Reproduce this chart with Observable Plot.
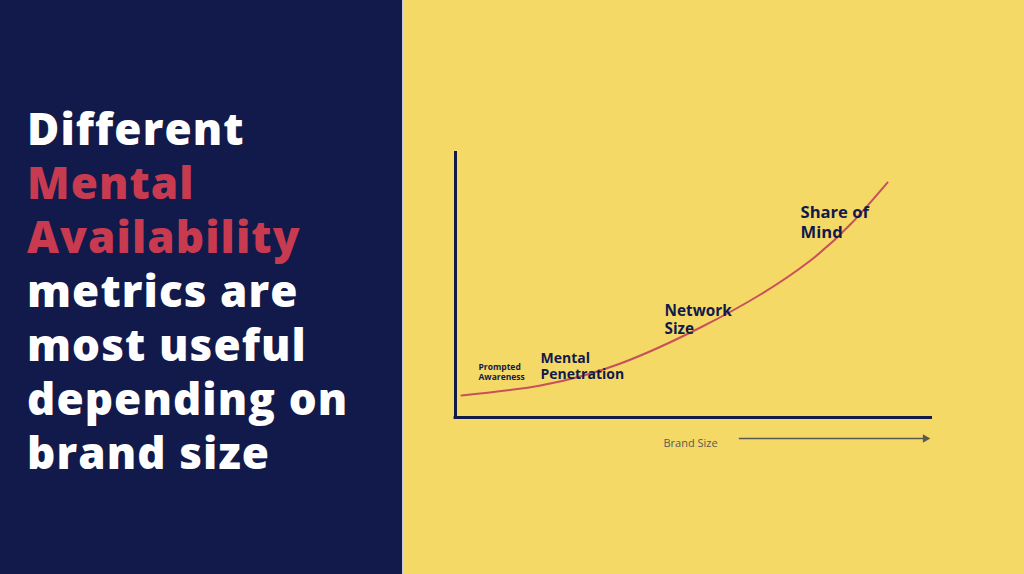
<!DOCTYPE html>
<html>
<head>
<meta charset="utf-8">
<script src="https://cdn.jsdelivr.net/npm/d3@7"></script>
<script src="https://cdn.jsdelivr.net/npm/@observablehq/plot@0.6"></script>
<style>
  html, body { margin: 0; padding: 0; width: 1024px; height: 574px; overflow: hidden; }
  #wrap { position: relative; width: 1024px; height: 574px; }
  #left { position: absolute; left: 0; top: 0; width: 402px; height: 574px; background: #111a4a; }
  #divider { position: absolute; left: 402px; top: 0; width: 1px; height: 574px; background: #c9cde0; }
  #right { position: absolute; left: 403px; top: 0; width: 621px; height: 574px; background: #f4d967; }
  #title { position: absolute; left: 27px; top: 101px; font-family: "Open Sans", Lato, sans-serif;
           font-weight: 800; font-size: 44px; line-height: 54px; color: #ffffff; letter-spacing: 1.1px; white-space: nowrap; }
  #title div { height: 54px; }
  #title .hl { color: #c83a50; }
  #right svg { position: absolute; left: 0; top: 0; }
</style>
</head>
<body>
<div id="wrap">
  <div id="left">
    <div id="title"></div>
  </div>
  <div id="divider"></div>
  <div id="right"></div>
</div>
<script>
// Title lines (text, highlighted?)
const titleLines = ["Different", "Mental", "Availability", "metrics are", "most useful", "depending on", "brand size"];
const titleHighlight = [false, true, true, false, false, false, false];

// Curve: brand size (x) vs metric value (y), both 0–100
const curveX = [1.26, 17.82, 34.59, 51.36, 63.94, 74.42, 82.81, 90.57];
const curveY = [8.27, 12.03, 20.30, 33.83, 46.24, 59.02, 72.63, 88.35];

// Metric labels
const labelText = ["Prompted\nAwareness", "Mental\nPenetration", "Network\nSize", "Share of\nMind"];
const labelX = [4.82, 17.82, 43.82, 72.33];
const labelY = [20.56, 25.19, 42.97, 80.6];
const labelSize = [8.5, 14, 15.3, 16.6];
const labelLineHeight = [1.18, 1.21, 1.18, 1.24];

// Axis label
const axisLabel = "Brand Size";

// Build title
const titleEl = document.getElementById("title");
titleLines.forEach((t, i) => {
  const d = document.createElement("div");
  d.textContent = t;
  if (titleHighlight[i]) d.className = "hl";
  titleEl.appendChild(d);
});

const navy = "#111a4a";
const gray = "#5a5a52";
const curve = curveX.map((x, i) => ({x, y: curveY[i]}));
const labels = labelText.map((t, i) => ({t, x: labelX[i], y: labelY[i], s: labelSize[i], lh: labelLineHeight[i]}));

const chart = Plot.plot({
  width: 621,
  height: 574,
  marginLeft: 52,
  marginRight: 92,
  marginTop: 151,
  marginBottom: 157,
  x: {domain: [0, 100], axis: null},
  y: {domain: [0, 100], axis: null},
  style: {background: "transparent", fontFamily: "'Open Sans', sans-serif"},
  marks: [
    Plot.line(curve, {x: "x", y: "y", curve: "natural", stroke: "#c8505a", strokeWidth: 2}),
    Plot.ruleX([0], {y1: 0, y2: 100, stroke: navy, strokeWidth: 3}),
    Plot.ruleY([0], {x1: -0.3, x2: 100, stroke: navy, strokeWidth: 3}),
    ...labels.map(l => Plot.text([l], {
      x: "x", y: "y", text: "t", textAnchor: "start", lineAnchor: "top",
      fontSize: l.s, fontWeight: 700, fill: navy, lineHeight: l.lh
    })),
    Plot.ruleY([-7.9], {x1: 59.5, x2: 98.5, stroke: gray, strokeWidth: 1.3}),
    Plot.dot([{x: 98.5, y: -7.9}], {x: "x", y: "y", symbol: "triangle", rotate: 90, r: 3.2, fill: gray, stroke: "none"}),
    Plot.text([axisLabel], {
      x: 43.6, y: -9.8, text: d => d, textAnchor: "start", fontSize: 11, fill: gray
    })
  ]
});
document.getElementById("right").appendChild(chart);
</script>
</body>
</html>
